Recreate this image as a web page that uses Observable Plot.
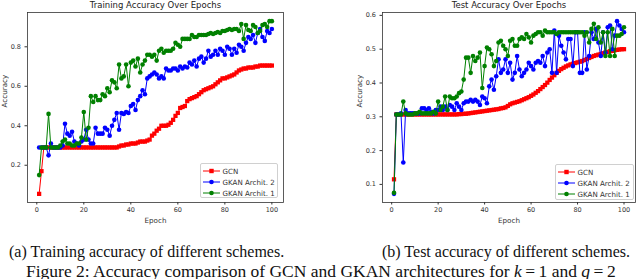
<!DOCTYPE html>
<html>
<head>
<meta charset="utf-8">
<script src="https://cdn.jsdelivr.net/npm/d3@7"></script>
<script src="https://cdn.jsdelivr.net/npm/@observablehq/plot@0.6"></script>
<style>
  html, body { margin: 0; padding: 0; background: #fff; }
  #root { position: relative; width: 640px; height: 279px; overflow: hidden; background: #fff; }
  .panel { position: absolute; top: 0; }
  .legend { position: absolute; border: 0.8px solid #d0d0d0; border-radius: 2px; background: rgba(255,255,255,0.85);
            font-family: "DejaVu Sans", sans-serif; font-size: 7.1px; color: #333; box-sizing: border-box; }
  .legend .row { position: absolute; left: 0; height: 10px; display: flex; align-items: center; }
  .legend svg { display: block; }
  .legend span { margin-left: 2.5px; white-space: nowrap; }
  .cap { position: absolute; font-family: "Liberation Serif", "Times New Roman", serif; font-size: 16px; line-height: 1; color: #111; white-space: nowrap; }
  .rel { display: inline-block; margin: 0 3.5px; }
</style>
</head>
<body>
<div id="root"></div>
<script>
// ---------- data ----------
const epochs = d3.range(1, 101);
const xTicks = [0, 20, 40, 60, 80, 100];
const seriesNames = ["GCN", "GKAN Archit. 2", "GKAN Archit. 1"];
const seriesColors = ["#ff0000", "#0000ff", "#008000"];

const trainGCN = [
  0.055,0.17,0.29,0.29,0.29,0.29,0.29,0.29,0.29,0.29,
  0.29,0.29,0.29,0.29,0.29,0.29,0.29,0.29,0.29,0.29,
  0.29,0.29,0.29,0.29,0.29,0.29,0.29,0.29,0.29,0.29,
  0.29,0.29,0.29,0.29,0.295,0.30,0.30,0.305,0.305,0.31,
  0.31,0.31,0.315,0.32,0.32,0.32,0.325,0.33,0.35,0.36,
  0.375,0.385,0.40,0.40,0.40,0.405,0.415,0.43,0.45,0.465,
  0.49,0.495,0.50,0.525,0.535,0.54,0.545,0.55,0.56,0.57,
  0.58,0.585,0.59,0.595,0.60,0.61,0.62,0.63,0.64,0.64,
  0.645,0.65,0.655,0.66,0.67,0.68,0.685,0.69,0.69,0.695,
  0.695,0.695,0.70,0.70,0.705,0.705,0.705,0.705,0.705,0.705
];
const trainGKAN2 = [
  0.29,0.29,0.29,0.29,0.25,0.31,0.29,0.29,0.29,0.29,
  0.30,0.41,0.36,0.35,0.37,0.32,0.31,0.30,0.32,0.33,
  0.38,0.33,0.31,0.31,0.39,0.36,0.36,0.36,0.39,0.38,
  0.35,0.40,0.43,0.465,0.38,0.465,0.46,0.47,0.465,0.50,
  0.51,0.48,0.53,0.55,0.58,0.56,0.64,0.65,0.66,0.67,
  0.66,0.64,0.65,0.64,0.69,0.68,0.68,0.69,0.69,0.68,
  0.70,0.69,0.70,0.695,0.72,0.71,0.73,0.70,0.74,0.75,
  0.72,0.74,0.78,0.75,0.76,0.78,0.76,0.79,0.78,0.76,
  0.80,0.79,0.76,0.79,0.77,0.81,0.80,0.78,0.82,0.85,
  0.84,0.86,0.82,0.87,0.89,0.85,0.83,0.88,0.87,0.89
];
const trainGKAN1 = [
  0.15,0.29,0.29,0.29,0.46,0.29,0.29,0.29,0.29,0.30,
  0.32,0.33,0.31,0.31,0.30,0.30,0.31,0.31,0.34,0.47,
  0.33,0.39,0.55,0.52,0.55,0.53,0.53,0.56,0.55,0.59,
  0.57,0.63,0.62,0.59,0.71,0.64,0.65,0.71,0.60,0.72,
  0.73,0.70,0.74,0.67,0.71,0.73,0.76,0.76,0.75,0.76,
  0.73,0.78,0.79,0.77,0.78,0.78,0.78,0.79,0.82,0.81,
  0.80,0.84,0.84,0.84,0.84,0.86,0.85,0.85,0.86,0.86,
  0.86,0.86,0.865,0.87,0.865,0.87,0.875,0.87,0.88,0.88,
  0.885,0.89,0.885,0.89,0.89,0.88,0.915,0.84,0.91,0.885,
  0.88,0.91,0.90,0.87,0.88,0.91,0.915,0.90,0.93,0.93
];

const testGCN = [
  0.115,0.307,0.307,0.307,0.307,0.307,0.307,0.307,0.307,0.307,
  0.307,0.307,0.307,0.307,0.307,0.307,0.307,0.307,0.307,0.307,
  0.307,0.307,0.307,0.307,0.307,0.307,0.307,0.307,0.308,0.308,
  0.309,0.309,0.310,0.311,0.312,0.313,0.314,0.315,0.316,0.317,
  0.318,0.319,0.320,0.321,0.322,0.323,0.325,0.326,0.328,0.332,
  0.337,0.340,0.342,0.344,0.346,0.349,0.352,0.355,0.358,0.362,
  0.366,0.371,0.376,0.382,0.388,0.394,0.401,0.409,0.416,0.423,
  0.430,0.436,0.441,0.445,0.449,0.452,0.455,0.457,0.459,0.461,
  0.463,0.465,0.468,0.471,0.474,0.477,0.480,0.482,0.484,0.486,
  0.488,0.490,0.492,0.494,0.495,0.497,0.498,0.499,0.500,0.500
];
const testGKAN2 = [
  0.072,0.307,0.307,0.31,0.165,0.32,0.31,0.31,0.31,0.31,
  0.31,0.31,0.325,0.325,0.32,0.325,0.315,0.31,0.32,0.32,
  0.33,0.32,0.33,0.32,0.335,0.33,0.32,0.34,0.33,0.32,
  0.34,0.345,0.345,0.35,0.345,0.35,0.345,0.335,0.36,0.355,
  0.34,0.39,0.41,0.38,0.42,0.47,0.43,0.44,0.47,0.43,
  0.46,0.41,0.43,0.48,0.44,0.42,0.43,0.44,0.46,0.45,
  0.44,0.46,0.465,0.46,0.48,0.45,0.49,0.50,0.43,0.555,
  0.43,0.54,0.51,0.49,0.47,0.53,0.53,0.45,0.55,0.55,
  0.43,0.43,0.55,0.44,0.48,0.55,0.53,0.56,0.52,0.48,
  0.55,0.49,0.565,0.57,0.50,0.54,0.583,0.57,0.56,0.55
];
const testGKAN1 = [
  0.075,0.307,0.307,0.307,0.345,0.31,0.307,0.307,0.307,0.31,
  0.31,0.315,0.31,0.31,0.31,0.31,0.31,0.315,0.31,0.345,
  0.32,0.33,0.36,0.32,0.36,0.355,0.355,0.36,0.37,0.375,
  0.41,0.475,0.475,0.43,0.48,0.465,0.475,0.49,0.385,0.45,
  0.505,0.50,0.485,0.45,0.465,0.52,0.525,0.51,0.50,0.48,
  0.525,0.53,0.51,0.51,0.53,0.535,0.53,0.545,0.535,0.52,
  0.54,0.545,0.55,0.55,0.54,0.555,0.55,0.55,0.55,0.55,
  0.545,0.55,0.55,0.55,0.55,0.55,0.55,0.55,0.55,0.55,
  0.55,0.55,0.54,0.55,0.52,0.56,0.575,0.53,0.565,0.52,
  0.55,0.48,0.55,0.48,0.56,0.48,0.54,0.54,0.545,0.565
];

const trainTicks = [0.2, 0.4, 0.6, 0.8];
const testTicks = [0.1, 0.2, 0.3, 0.4, 0.5, 0.6];

// ---------- drawing ----------
function makeChart({title, values, yTicks, marginLeft, marginRight}) {
  const rows = [];
  values.forEach((arr, s) => arr.forEach((v, i) => rows.push({epoch: epochs[i], acc: v, series: seriesNames[s]})));
  const ex = d3.extent(rows, d => d.acc);
  const py = (ex[1] - ex[0]) * 0.05;
  const xe = d3.extent(epochs);
  const px = (xe[1] - xe[0]) * 0.05;
  const marks = [
    Plot.frame({stroke: "#333", strokeWidth: 0.8}),
    Plot.axisX({ticks: xTicks, tickSize: 2.5, tickPadding: 2.5, stroke: "#333", fill: "#333", fontSize: 6.5, label: null}),
    Plot.axisY({ticks: yTicks, tickSize: 2.5, tickPadding: 4, stroke: "#333", fill: "#333", fontSize: 6.5, tickFormat: d3.format(".1f"), label: null}),
    Plot.text(["Epoch"], {frameAnchor: "bottom", dy: 18.5, lineAnchor: "middle", fontSize: 7.2, fill: "#333"}),
    Plot.text(["Accuracy"], {frameAnchor: "left", dx: -23.3, lineAnchor: "middle", rotate: -90, fontSize: 7.2, fill: "#333"})
  ];
  seriesNames.forEach((name, s) => {
    const data = rows.filter(d => d.series === name);
    marks.push(Plot.line(data, {x: "epoch", y: "acc", stroke: seriesColors[s], strokeWidth: 1}));
    marks.push(Plot.dot(data, {x: "epoch", y: "acc", fill: seriesColors[s], stroke: null,
      symbol: s === 0 ? "square" : "circle", r: s === 0 ? 2.4 : 2.3}));
  });
  marks.push(Plot.text([title], {frameAnchor: "top", dy: -5, lineAnchor: "bottom", fontSize: 8.5, fill: "#222"}));
  return Plot.plot({
    width: 320, height: 230,
    marginTop: 12, marginBottom: 28, marginLeft, marginRight,
    style: {fontFamily: "DejaVu Sans, sans-serif", fontSize: "6.5px", color: "#333", background: "transparent", overflow: "visible"},
    x: {domain: [xe[0] - px, xe[1] + px]},
    y: {domain: [ex[0] - py, ex[1] + py]},
    marks
  });
}

function makeLegend(left, top, width, height) {
  const div = document.createElement("div");
  div.className = "legend";
  Object.assign(div.style, {left: left + "px", top: top + "px", width: width + "px", height: height + "px"});
  seriesNames.forEach((name, s) => {
    const row = document.createElement("div");
    row.className = "row";
    row.style.top = (2 + s * 11.2) + "px";
    row.style.left = "2px";
    const c = seriesColors[s];
    const marker = s === 0
      ? `<rect x="6.3" y="2.8" width="4.4" height="4.4" fill="${c}"/>`
      : `<circle cx="8.5" cy="5" r="2.3" fill="${c}"/>`;
    row.innerHTML = `<svg width="17" height="10"><line x1="0" y1="5" x2="17" y2="5" stroke="${c}" stroke-width="1"/>${marker}</svg><span>${name}</span>`;
    div.appendChild(row);
  });
  return div;
}

const root = document.getElementById("root");

const p1 = document.createElement("div");
p1.className = "panel"; p1.style.left = "0px";
p1.appendChild(makeChart({title: "Training Accuracy Over Epochs", values: [trainGCN, trainGKAN2, trainGKAN1], yTicks: trainTicks, marginLeft: 27, marginRight: 37}));
root.appendChild(p1);

const p2 = document.createElement("div");
p2.className = "panel"; p2.style.left = "320px";
p2.appendChild(makeChart({title: "Test Accuracy Over Epochs", values: [testGCN, testGKAN2, testGKAN1], yTicks: testTicks, marginLeft: 62, marginRight: 5}));
root.appendChild(p2);

root.appendChild(makeLegend(200, 163, 78, 35));
root.appendChild(makeLegend(555, 164, 79, 36));

const capA = document.createElement("div");
capA.className = "cap"; capA.style.left = "9px"; capA.style.top = "243.5px";
capA.textContent = "(a) Training accuracy of different schemes.";
root.appendChild(capA);

const capB = document.createElement("div");
capB.className = "cap"; capB.style.left = "382px"; capB.style.top = "243.5px";
capB.textContent = "(b) Test accuracy of different schemes.";
root.appendChild(capB);

const capF = document.createElement("div");
capF.className = "cap"; capF.style.left = "26px"; capF.style.top = "262.5px"; capF.style.fontSize = "17.5px";
capF.innerHTML = 'Figure 2: Accuracy comparison of GCN and GKAN architectures for <i>k</i><span class="rel">=</span>1 and <i>q</i><span class="rel">=</span>2';
root.appendChild(capF);
</script>
</body>
</html>
